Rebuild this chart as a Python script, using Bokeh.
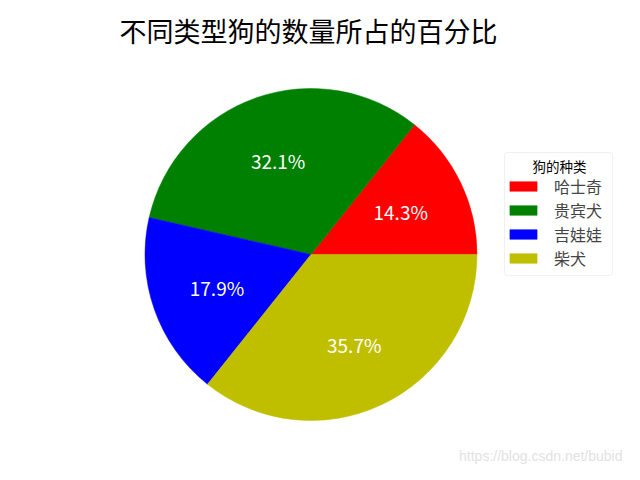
import numpy as np
from bokeh.core.properties import value
from bokeh.embed import file_html
from bokeh.models import BoxAnnotation, ColumnDataSource, Label, Legend, LegendItem, Range1d
from bokeh.plotting import figure
from bokeh.resources import INLINE
from bokeh.transform import cumsum

# data (4 : 9 : 5 : 10 -> 14.3 / 32.1 / 17.9 / 35.7 %)
breeds = ['哈士奇', '贵宾犬', '吉娃娃', '柴犬']
counts = [4, 9, 5, 10]
colors = ['#ff0000', '#008000', '#0000ff', '#bfbf00']
title_text = '不同类型狗的数量所占的百分比'
legend_title = '狗的种类'
watermark = 'https://blog.csdn.net/bubid'

cjk = 'Noto Sans CJK SC'
W, H = 624, 464
cx, cy, radius = 310.5, 210, 166

vals = np.array(counts, dtype=float)
share = vals / vals.sum()
angles = share * 2 * np.pi
mids = np.cumsum(angles) - angles / 2

src = ColumnDataSource(dict(
    breed=breeds,
    angle=angles,
    color=colors,
    pct=[f'{v:.1f}%' for v in share * 100],
    lx=cx + 0.6 * radius * np.cos(mids),
    ly=cy + 0.6 * radius * np.sin(mids),
))

p = figure(width=W, height=H, x_range=Range1d(0, W), y_range=Range1d(0, H),
           x_axis_type=None, y_axis_type=None, output_backend="svg",
           toolbar_location=None, min_border=0)
p.grid.visible = False
p.outline_line_color = None

wedges = p.wedge(x=cx, y=cy, radius=radius,
                 start_angle=cumsum('angle', include_zero=True), end_angle=cumsum('angle'),
                 fill_color='color', line_color='color', line_width=0.5, source=src)

p.text(x='lx', y='ly', text='pct', source=src, text_color='white',
       text_font=value(cjk), text_font_size='19px',
       text_align='center', text_baseline='middle')

# legend frame drawn separately so the title can be centred like matplotlib's
p.add_layout(BoxAnnotation(left=504, right=612, bottom=189, top=312,
                           fill_color='white', fill_alpha=0.8,
                           line_color='#cccccc', line_width=1, border_radius=3))

legend = Legend(items=[LegendItem(label=b, renderers=[wedges], index=i) for i, b in enumerate(breeds)],
                location=(506, 194), padding=0, margin=0, spacing=0,
                glyph_width=34, glyph_height=12, label_height=20, label_standoff=14,
                label_text_font=cjk, label_text_font_size='16px',
                border_line_alpha=0, background_fill_alpha=0)
p.add_layout(legend)

p.add_layout(Label(x=559, y=299, text=legend_title, text_font=cjk, text_font_size='13.5px',
                   text_align='center', text_baseline='middle', text_color='black'))

p.add_layout(Label(x=308, y=434.5, text=title_text, text_font=cjk, text_font_size='27px',
                   text_align='center', text_baseline='middle', text_color='black'))

p.add_layout(Label(x=622, y=9, text=watermark, text_font='Liberation Sans', text_font_size='14px',
                   text_align='right', text_baseline='middle', text_color='#e2e2e2'))

open("out.html", "w").write(file_html(p, INLINE))
